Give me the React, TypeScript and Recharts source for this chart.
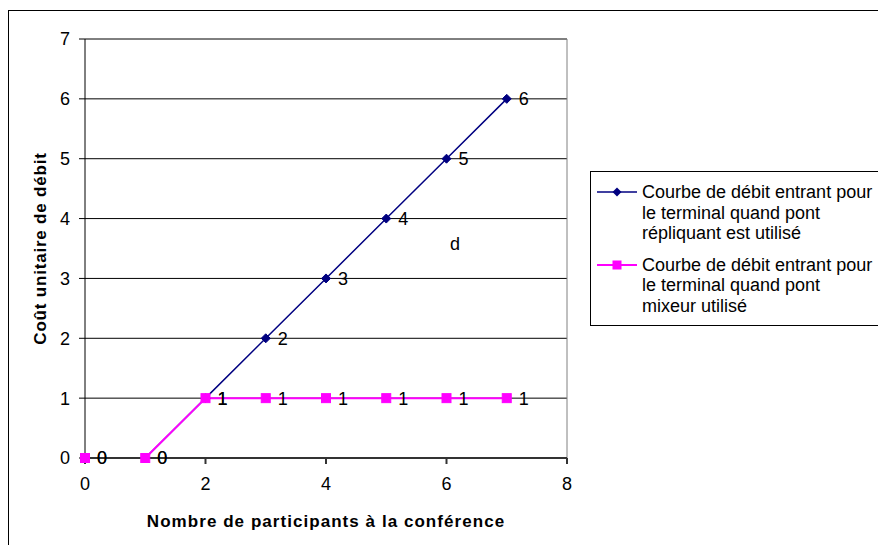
import React from "react";
import { LineChart, Line, XAxis, YAxis, CartesianGrid, LabelList, ReferenceLine, Label } from "recharts";

const participants = [0, 1, 2, 3, 4, 5, 6, 7];
const repliquant = [0, 0, 1, 2, 3, 4, 5, 6];
const mixeur = [0, 0, 1, 1, 1, 1, 1, 1];
const xTicks = [0, 2, 4, 6, 8];
const yTicks = [0, 1, 2, 3, 4, 5, 6, 7];
const seriesNames = [
  "Courbe de débit entrant pour le terminal quand pont répliquant est utilisé",
  "Courbe de débit entrant pour le terminal quand pont mixeur utilisé",
];
const seriesLines = [
  ["Courbe de débit entrant pour", "le terminal quand pont", "répliquant est utilisé"],
  ["Courbe de débit entrant pour", "le terminal quand pont", "mixeur utilisé"],
];

const data = participants.map((n, i) => ({ n, rep: repliquant[i], mix: mixeur[i] }));

const NAVY = "#000080";
const PINK = "#FF00FF";
const FONT = "'Liberation Sans', Arial, sans-serif";

const Diamond = (props: any) => {
  const { cx, cy } = props;
  if (cx == null || cy == null) return null;
  const r = 4.5;
  return <polygon points={`${cx},${cy - r} ${cx + r},${cy} ${cx},${cy + r} ${cx - r},${cy}`} fill={NAVY} stroke={NAVY} />;
};

const Square = (props: any) => {
  const { cx, cy } = props;
  if (cx == null || cy == null) return null;
  return <rect x={cx - 4.5} y={cy - 4.5} width={9} height={9} fill={PINK} stroke={PINK} />;
};

const LegendBox = () => (
  <div
    style={{
      position: "absolute",
      left: 582,
      top: 163,
      border: "1px solid #000",
      background: "#fff",
      width: 320,
      padding: "10px 0 9px 0",
      fontFamily: FONT,
      fontSize: 18,
      lineHeight: "20.5px",
      color: "#000",
    }}
  >
    {seriesLines.map((lines, i) => (
      <div key={i} style={{ display: "flex", marginTop: i ? 11 : 0 }}>
        <svg width={51} height={20} style={{ flex: "none" }}>
          <line x1={6} y1={10} x2={46} y2={10} stroke={i ? PINK : NAVY} strokeWidth={i ? 2 : 1.5} />
          {i ? (
            <rect x={21.5} y={5.5} width={9} height={9} fill={PINK} />
          ) : (
            <polygon points="26,5.5 30.5,10 26,14.5 21.5,10" fill={NAVY} />
          )}
        </svg>
        <div title={seriesNames[i]} style={{ whiteSpace: "nowrap" }}>
          {lines.map((l) => (
            <div key={l}>{l}</div>
          ))}
        </div>
      </div>
    ))}
  </div>
);

export default function App() {
  return (
    <div
      style={{
        position: "fixed",
        left: 8,
        top: 8,
        width: 870,
        height: 537,
        overflow: "hidden",
        fontFamily: FONT,
        background: "#fff",
      }}
    >
      <div
        style={{
          position: "absolute",
          left: 0,
          top: 2,
          width: 1000,
          height: 1000,
          borderLeft: "1px solid #000",
          borderTop: "1px solid #000",
        }}
      />
      <LineChart
        width={870}
        height={537}
        data={data}
        margin={{ top: 31, right: 311, left: 0, bottom: 0 }}
        style={{ fontFamily: FONT }}
      >
        <CartesianGrid horizontal vertical={false} stroke="#000" />
        <ReferenceLine y={7} stroke="#808080" />
        <ReferenceLine x={8} stroke="#808080" />
        <XAxis
          dataKey="n"
          type="number"
          domain={[0, 8]}
          ticks={xTicks}
          height={87}
          tickSize={6}
          tickMargin={13}
          stroke="#333"
          strokeWidth={2}
          tick={{ fontSize: 18, fill: "#000" }}
        >
          <Label
            value="Nombre de participants à la conférence"
            position="insideBottom"
            offset={18}
            style={{ fontSize: 17, fontWeight: "bold", fill: "#000", letterSpacing: 1.05 }}
          />
        </XAxis>
        <YAxis
          type="number"
          domain={[0, 7]}
          ticks={yTicks}
          width={77}
          tickSize={6}
          tickMargin={9}
          stroke="#000"
          tick={{ fontSize: 18, fill: "#000" }}
        >
          <Label
            content={(p: any) => {
              const vb = p.viewBox || { x: 0, y: 31, width: 77, height: 419 };
              const cx = vb.x + 32;
              const cy = vb.y + vb.height / 2;
              return (
                <text
                  x={cx}
                  y={cy}
                  transform={`rotate(-90 ${cx} ${cy})`}
                  textAnchor="middle"
                  dominantBaseline="central"
                  style={{ fontSize: 17, fontWeight: "bold", fill: "#000", letterSpacing: 0.8 }}
                >
                  Coût unitaire de débit
                </text>
              );
            }}
          />
        </YAxis>
        <Line
          dataKey="rep"
          name={seriesNames[0]}
          stroke={NAVY}
          strokeWidth={1.5}
          dot={<Diamond />}
          isAnimationActive={false}
        >
          <LabelList dataKey="rep" position="right" offset={12} style={{ fontSize: 18, fill: "#000" }} />
        </Line>
        <Line
          dataKey="mix"
          name={seriesNames[1]}
          stroke={PINK}
          strokeWidth={2}
          dot={<Square />}
          isAnimationActive={false}
        >
          <LabelList dataKey="mix" position="right" offset={12} style={{ fontSize: 18, fill: "#000" }} />
        </Line>
      </LineChart>
      <LegendBox />
      <div style={{ position: "absolute", left: 442, top: 226, fontSize: 18, lineHeight: "20px", color: "#000" }}>d</div>
    </div>
  );
}
